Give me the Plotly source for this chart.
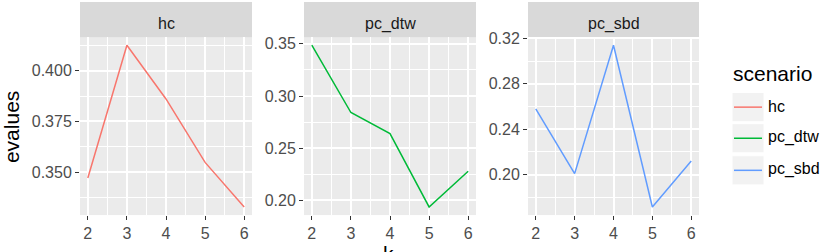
import plotly.graph_objects as go

# ---- data ----
k = [2, 3, 4, 5, 6]
hc = [0.3471, 0.4126, 0.3861, 0.3548, 0.3328]
pc_dtw = [0.3487, 0.2842, 0.2640, 0.1937, 0.2280]
pc_sbd = [0.2579, 0.2008, 0.3140, 0.1714, 0.2120]
scenarios = ["hc", "pc_dtw", "pc_sbd"]
colors = ["#F8766D", "#00BA38", "#619CFF"]
ytick_fmt = [".3f", ".2f", ".2f"]
ytick_step = [0.025, 0.05, 0.04]
series = [hc, pc_dtw, pc_sbd]

W, H = 827, 252
FONT = "Liberation Sans, Arial, sans-serif"
TICK_SIZE = 16
TITLE_SIZE = 21

# panel pixel geometry
panel_x = [(80, 252), (304, 476), (528, 699)]
panel_top, panel_bot = 31, 214

fig = go.Figure()
layout = dict(
    width=W, height=H,
    margin=dict(l=0, r=0, t=0, b=0),
    paper_bgcolor="white", plot_bgcolor="#EBEBEB",
    showlegend=False,
    font=dict(family=FONT, size=TICK_SIZE, color="#4D4D4D"),
)

shapes = []
annotations = []

for i, (name, vals, col) in enumerate(zip(scenarios, series, colors)):
    sfx = "" if i == 0 else str(i + 1)
    xa, ya = "x" + sfx, "y" + sfx
    fig.add_trace(go.Scatter(x=k, y=vals, mode="lines", name=name,
                             line=dict(color=col, width=1.5),
                             xaxis=xa, yaxis=ya, hoverinfo="skip"))
    lo, hi = min(vals), max(vals)
    pad = (hi - lo) * 0.05
    xpad = (max(k) - min(k)) * 0.05
    step = ytick_step[i]
    x0p, x1p = panel_x[i]
    layout["xaxis" + sfx] = dict(
        domain=[x0p / W, x1p / W], anchor=ya,
        range=[min(k) - xpad, max(k) + xpad],
        tickmode="linear", tick0=2, dtick=1,
        showgrid=True, gridcolor="white", gridwidth=1.5,
        zeroline=False, showline=False,
        ticks="outside", ticklen=4, tickwidth=1, tickcolor="#333333",
        tickfont=dict(family=FONT, size=TICK_SIZE, color="#4D4D4D"),
        minor=dict(tick0=2.5, dtick=1, showgrid=True, gridcolor="white",
                   gridwidth=0.7, ticks=""),
    )
    layout["yaxis" + sfx] = dict(
        domain=[1 - panel_bot / H, 1 - panel_top / H], anchor=xa,
        range=[lo - pad, hi + pad],
        tickmode="linear", tick0=0, dtick=step, tickformat=ytick_fmt[i],
        showgrid=True, gridcolor="white", gridwidth=1.5,
        zeroline=False, showline=False,
        ticks="outside", ticklen=4, tickwidth=1, tickcolor="#333333",
        tickfont=dict(family=FONT, size=TICK_SIZE, color="#4D4D4D"),
        minor=dict(tick0=step / 2, dtick=step, showgrid=True, gridcolor="white",
                   gridwidth=0.7, ticks=""),
    )
    # strip
    shapes.append(dict(type="rect", xref="paper", yref="paper",
                       x0=x0p / W, x1=x1p / W, y0=1 - panel_top / H, y1=1.02,
                       fillcolor="#D9D9D9", line=dict(width=0), layer="below"))
    annotations.append(dict(text=name, xref="paper", yref="paper",
                            x=(x0p + x1p) / 2 / W, y=1 - 17 / H,
                            xanchor="center", yanchor="middle", showarrow=False,
                            font=dict(family=FONT, size=TICK_SIZE, color="#1A1A1A")))

# axis titles
annotations.append(dict(text="evalues", xref="paper", yref="paper",
                        x=11.5 / W, y=1 - 124 / H, textangle=-90,
                        xanchor="center", yanchor="middle", showarrow=False,
                        font=dict(family=FONT, size=TITLE_SIZE, color="black")))
annotations.append(dict(text="k", xref="paper", yref="paper",
                        x=388 / W, y=1 - 254 / H,
                        xanchor="center", yanchor="middle", showarrow=False,
                        font=dict(family=FONT, size=TITLE_SIZE, color="black")))

# legend (drawn manually to mimic ggplot)
annotations.append(dict(text="scenario", xref="paper", yref="paper",
                        x=731 / W, y=1 - 68 / H,
                        xanchor="left", yanchor="middle", showarrow=False,
                        font=dict(family=FONT, size=TITLE_SIZE, color="black")))
key_centers = [103, 135, 168]
for name, col, cy in zip(scenarios, colors, key_centers):
    shapes.append(dict(type="rect", xref="paper", yref="paper",
                       x0=732 / W, x1=764 / W, y0=1 - (cy + 15) / H, y1=1 - (cy - 15) / H,
                       fillcolor="#F2F2F2", line=dict(color="white", width=1)))
    shapes.append(dict(type="line", xref="paper", yref="paper",
                       x0=734 / W, x1=762 / W, y0=1 - cy / H, y1=1 - cy / H,
                       line=dict(color=col, width=1.5)))
    annotations.append(dict(text=name, xref="paper", yref="paper",
                            x=766 / W, y=1 - (cy - 1) / H,
                            xanchor="left", yanchor="middle", showarrow=False,
                            font=dict(family=FONT, size=TICK_SIZE, color="black")))

layout["shapes"] = shapes
layout["annotations"] = annotations
fig.update_layout(**layout)
fig.write_html("out.html")
